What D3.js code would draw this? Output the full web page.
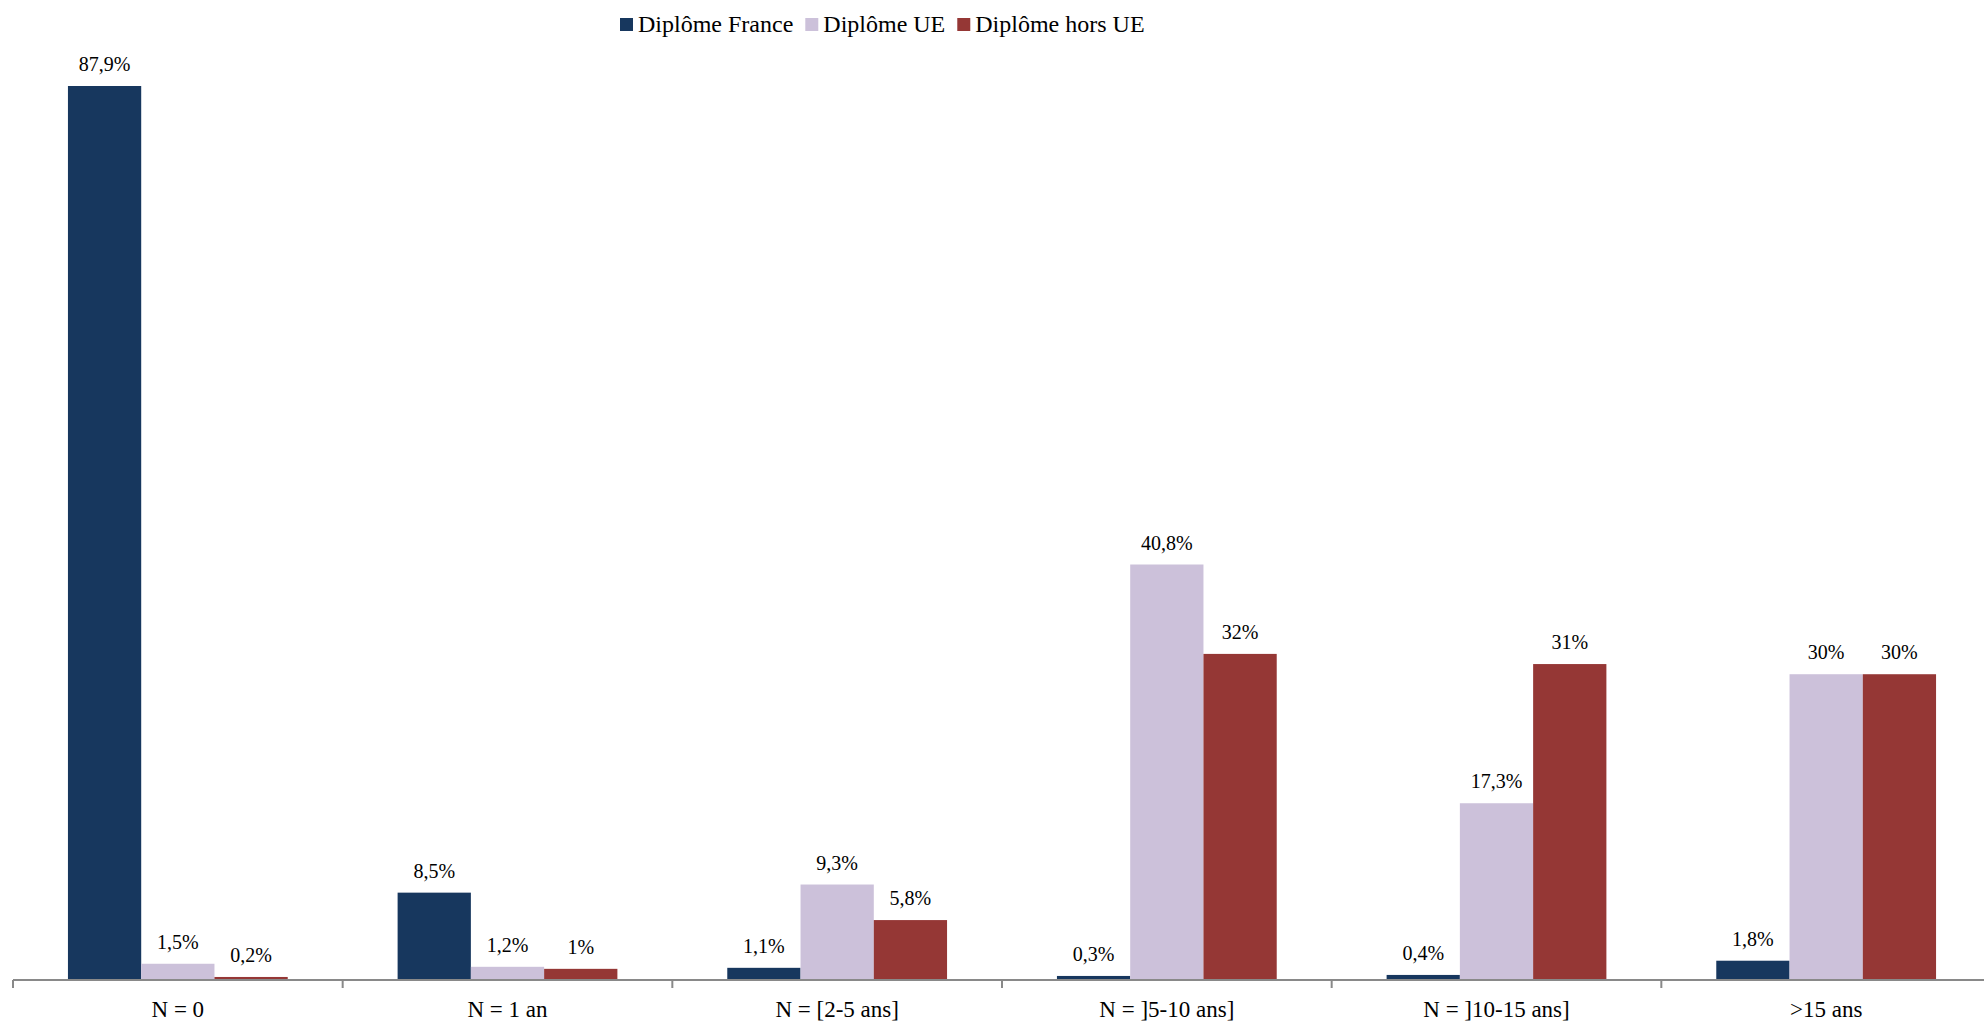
<!DOCTYPE html>
<html>
<head>
<meta charset="utf-8">
<script src="https://cdn.jsdelivr.net/npm/d3@7"></script>
<style>
  html, body { margin: 0; padding: 0; background: #fff; }
  svg { display: block; }
  text { font-family: "Liberation Serif", "Times New Roman", serif; fill: #000; }
</style>
</head>
<body>
<svg id="chart" width="1984" height="1023"></svg>
<script>
const categories = ["N = 0", "N = 1 an", "N = [2-5 ans]", "N = ]5-10 ans]", "N = ]10-15 ans]", ">15 ans"];
const seriesNames = ["Diplôme France", "Diplôme UE", "Diplôme hors UE"];
const seriesColors = ["#17375E", "#CCC1DA", "#953735"];
const franceValues = [87.9, 8.5, 1.1, 0.3, 0.4, 1.8];
const ueValues = [1.5, 1.2, 9.3, 40.8, 17.3, 30];
const horsUeValues = [0.2, 1, 5.8, 32, 31, 30];

const seriesValues = [franceValues, ueValues, horsUeValues];

const svg = d3.select("#chart");
const W = 1984, H = 1023;
const margin = { left: 13, right: -7, top: 86, bottom: 44 };
const baseY = H - margin.bottom;

const locale = d3.formatLocale({ decimal: ",", thousands: " ", grouping: [3], currency: ["", "€"] });
const fmt = v => locale.format(".1~f")(v) + "%";

const x0 = d3.scaleBand().domain(categories).range([margin.left, W - margin.right]).padding(0);
const x1 = d3.scaleBand().domain(seriesNames).range([0, x0.bandwidth()]).paddingInner(0).paddingOuter(0.75);
const y = d3.scaleLinear().domain([0, d3.max(franceValues)]).range([baseY, margin.top]);

const color = d3.scaleOrdinal().domain(seriesNames).range(seriesColors);

const data = categories.map((c, i) => ({
  cat: c,
  vals: seriesNames.map((s, j) => ({ s, v: seriesValues[j][i] }))
}));

const groups = svg.append("g").selectAll("g").data(data).join("g")
  .attr("transform", d => `translate(${x0(d.cat)},0)`);

groups.selectAll("rect").data(d => d.vals).join("rect")
  .attr("x", d => x1(d.s))
  .attr("width", x1.bandwidth())
  .attr("y", d => y(d.v))
  .attr("height", d => baseY - y(d.v))
  .attr("fill", d => color(d.s));

groups.selectAll("text.val").data(d => d.vals).join("text")
  .attr("class", "val")
  .attr("x", d => x1(d.s) + x1.bandwidth() / 2)
  .attr("y", d => y(d.v) - 15)
  .attr("text-anchor", "middle")
  .style("font-size", "20px")
  .text(d => fmt(d.v));

// axis
const axis = svg.append("g");
axis.append("line")
  .attr("x1", x0.range()[0]).attr("x2", x0.range()[1])
  .attr("y1", baseY + 1).attr("y2", baseY + 1)
  .attr("stroke", "#898989").attr("stroke-width", 2);
const tickXs = categories.map(c => x0(c)).concat([x0.range()[1]]);
axis.selectAll("line.tick").data(tickXs).join("line")
  .attr("class", "tick")
  .attr("x1", d => d).attr("x2", d => d)
  .attr("y1", baseY + 1).attr("y2", baseY + 9)
  .attr("stroke", "#898989").attr("stroke-width", 2);
axis.selectAll("text").data(categories).join("text")
  .attr("x", d => x0(d) + x0.bandwidth() / 2)
  .attr("y", baseY + 38)
  .attr("text-anchor", "middle")
  .style("font-size", "23px")
  .text(d => d);

// legend
const legend = svg.append("g");
let lx = 620;
seriesNames.forEach((s, i) => {
  legend.append("rect").attr("x", lx).attr("y", 18).attr("width", 13).attr("height", 13).attr("fill", color(s));
  const t = legend.append("text").attr("x", lx + 18).attr("y", 32).style("font-size", "24px").text(s);
  lx += 18 + t.node().getComputedTextLength() + 12;
});
</script>
</body>
</html>
